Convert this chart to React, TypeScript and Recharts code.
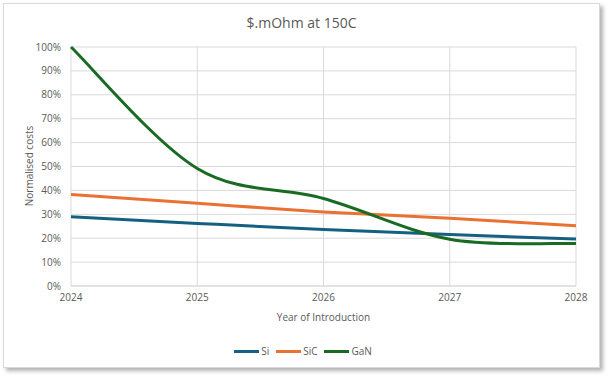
import React from 'react';
import { LineChart, Line, XAxis, YAxis, CartesianGrid, Legend } from 'recharts';

const years = [2024, 2025, 2026, 2027, 2028];
const siValues = [0.29, 0.262, 0.236, 0.215, 0.197];
const sicValues = [0.383, 0.346, 0.31, 0.283, 0.252];
const ganValues = [1.0, 0.492, 0.366, 0.196, 0.178];
const yTicks = [0, 0.1, 0.2, 0.3, 0.4, 0.5, 0.6, 0.7, 0.8, 0.9, 1.0];

const seriesDefs = [
  { key: 'Si', color: '#156082' },
  { key: 'SiC', color: '#E97132' },
  { key: 'GaN', color: '#196B24' },
];

const data = years.map((y, i) => ({ year: y, Si: siValues[i], SiC: sicValues[i], GaN: ganValues[i] }));

const FONT = '"Open Sans", "Noto Sans", sans-serif';
const TXT = '#595959';

// Excel-like smoothed line (Catmull-Rom Bezier, clamped ends)
function excelCurve(context: any) {
  let xs: number[] = [];
  let ys: number[] = [];
  return {
    areaStart() {},
    areaEnd() {},
    lineStart() {
      xs = [];
      ys = [];
    },
    lineEnd() {
      const n = xs.length;
      if (!n) return;
      context.moveTo(xs[0], ys[0]);
      for (let i = 0; i < n - 1; i++) {
        const a = Math.max(i - 1, 0);
        const d = Math.min(i + 2, n - 1);
        const c1x = xs[i] + (xs[i + 1] - xs[a]) / 6;
        const c1y = ys[i] + (ys[i + 1] - ys[a]) / 6;
        const c2x = xs[i + 1] - (xs[d] - xs[i]) / 6;
        const c2y = ys[i + 1] - (ys[d] - ys[i]) / 6;
        context.bezierCurveTo(c1x, c1y, c2x, c2y, xs[i + 1], ys[i + 1]);
      }
    },
    point(x: number, y: number) {
      xs.push(+x);
      ys.push(+y);
    },
  };
}

const renderLegend = () => (
  <div style={{ display: 'flex', justifyContent: 'center', alignItems: 'center', fontFamily: FONT, fontSize: 10, color: TXT }}>
    {seriesDefs.map((s) => (
      <div key={s.key} style={{ display: 'flex', alignItems: 'center', marginRight: 7 }}>
        <div style={{ width: 25, height: 3, background: s.color }} />
        <span style={{ marginLeft: 2 }}>{s.key}</span>
      </div>
    ))}
  </div>
);

export default function App() {
  return (
    <div style={{ position: 'absolute', left: 0, top: 0, width: 609, height: 377, background: '#fff', overflow: 'hidden' }}>
      <div
        style={{
          position: 'absolute',
          left: 3,
          top: 3,
          width: 597,
          height: 365,
          boxSizing: 'border-box',
          border: '1px solid #d9d9d9',
          boxShadow: '3px 3px 4px rgba(0,0,0,0.3)',
          background: '#fff',
        }}
      />
      <div style={{ position: 'absolute', left: 0, top: 0 }}>
        <LineChart width={609} height={377} data={data} margin={{ top: 47, right: 33, bottom: 60, left: 21 }}>
          <CartesianGrid stroke="#d9d9d9" strokeWidth={1} />
          <XAxis
            dataKey="year"
            type="number"
            domain={[2024, 2028]}
            ticks={years}
            height={31}
            tickLine={false}
            axisLine={{ stroke: '#d9d9d9' }}
            tick={{ fill: TXT, fontSize: 10, fontFamily: FONT }}
            tickMargin={2}
          />
          <YAxis
            type="number"
            domain={[0, 1]}
            ticks={yTicks}
            width={50}
            tickLine={false}
            axisLine={false}
            tickFormatter={(v: number) => `${Math.round(v * 100)}%`}
            tick={{ fill: TXT, fontSize: 10, fontFamily: FONT }}
            tickMargin={4}
            interval={0}
          />
          <Legend
            verticalAlign="middle"
            align="center"
            layout="horizontal"
            content={renderLegend}
            wrapperStyle={{ position: 'absolute', top: 344, left: 3, width: 607, height: 16 }}
          />
          {seriesDefs.map((s) => (
            <Line
              key={s.key}
              dataKey={s.key}
              stroke={s.color}
              strokeWidth={3}
              dot={false}
              activeDot={false}
              type={excelCurve as any}
              isAnimationActive={false}
            />
          ))}
        </LineChart>
      </div>
      <div style={{ position: 'absolute', left: 3, width: 597, top: 13, textAlign: 'center', fontFamily: FONT, fontSize: 14, color: TXT }}>
        $.mOhm at 150C
      </div>
      <div style={{ position: 'absolute', left: 71, width: 505, top: 310, textAlign: 'center', fontFamily: FONT, fontSize: 10, color: TXT }}>
        Year of Introduction
      </div>
      <div
        style={{
          position: 'absolute',
          left: 29,
          top: 166,
          transform: 'translate(-50%, -50%) rotate(-90deg)',
          whiteSpace: 'nowrap',
          fontFamily: FONT,
          fontSize: 10,
          color: TXT,
        }}
      >
        Normalised costs
      </div>
    </div>
  );
}
